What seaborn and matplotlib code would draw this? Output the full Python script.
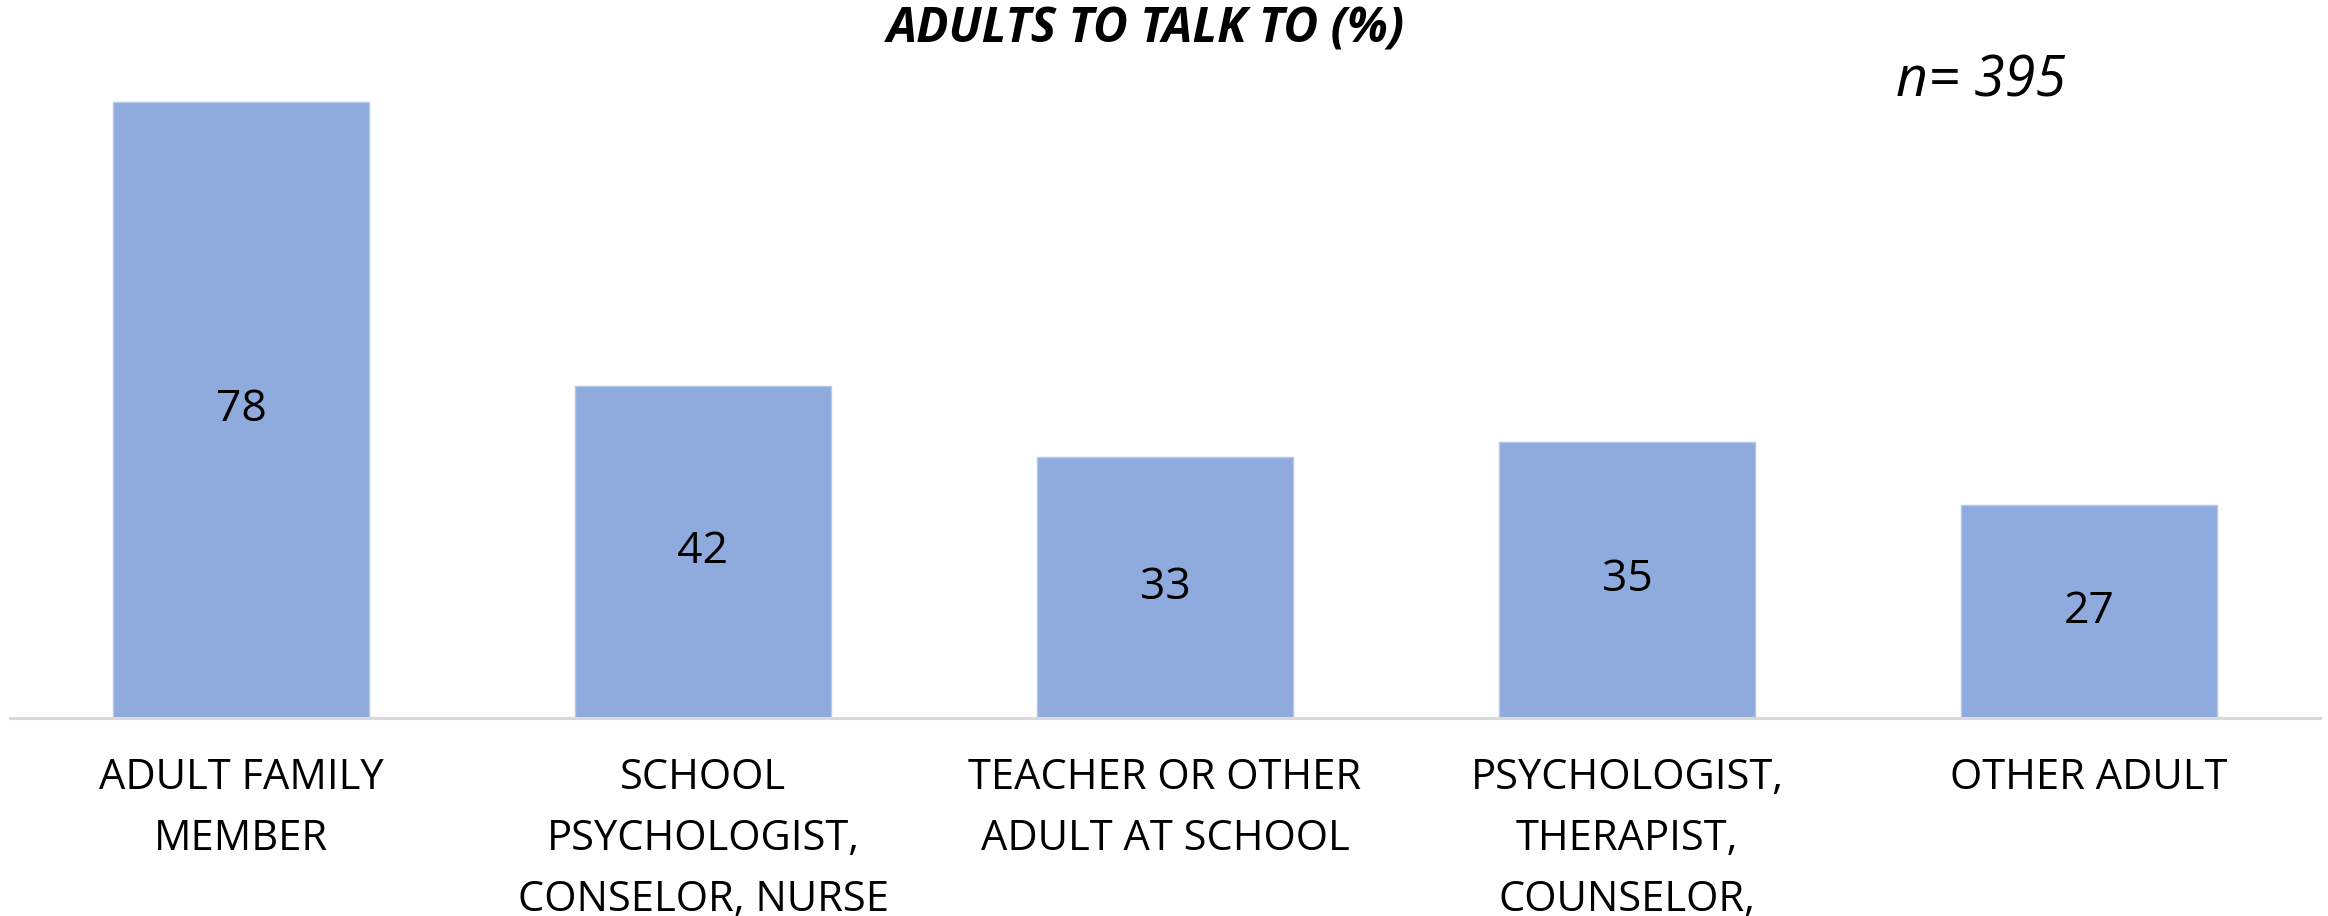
import matplotlib
matplotlib.use("Agg")
import matplotlib.pyplot as plt
import seaborn as sns
import pandas as pd

# data
categories = ["ADULT FAMILY\nMEMBER",
              "SCHOOL\nPSYCHOLOGIST,\nCONSELOR, NURSE",
              "TEACHER OR OTHER\nADULT AT SCHOOL",
              "PSYCHOLOGIST,\nTHERAPIST,\nCOUNSELOR,",
              "OTHER ADULT"]
values = [78, 42, 33, 35, 27]

df = pd.DataFrame({"category": categories, "value": values})

sns.set_style("white")
plt.rcParams['font.family'] = ['Open Sans', 'DejaVu Sans']
plt.rcParams['text.color'] = 'black'
plt.rcParams['xtick.color'] = 'black'

fig = plt.figure(figsize=(23.28, 9.16), dpi=100)
ax = fig.add_axes([10 / 2328, 198 / 916, 2310 / 2328, 718 / 916])

sns.barplot(data=df, x="category", y="value", color="#8FAADC",
            saturation=1, width=0.556, edgecolor="#B4C7E7", linewidth=1,
            ax=ax)

ax.set_xlim(-0.5, 4.5)
ax.set_ylim(0, 718 / 7.9)
ax.bar_label(ax.containers[0], label_type="center", fontsize=32,
             color="black")

# axis styling
for side in ["top", "left", "right"]:
    ax.spines[side].set_visible(False)
ax.spines["bottom"].set_color("#D9D9D9")
ax.spines["bottom"].set_linewidth(2.2)
ax.set_yticks([])
ax.set_xlabel("")
ax.set_ylabel("")
ax.tick_params(axis="x", length=0, pad=28, labelsize=30, labelcolor="black")
for lbl in ax.get_xticklabels():
    lbl.set_linespacing(1.6)
    lbl.set_va("top")

fig.text(1146 / 2328, 1 - 30 / 916, "ADULTS TO TALK TO (%)", ha="center",
         va="center", fontsize=34.5, fontweight="bold", fontstyle="italic",
         color="black")
fig.text(1981 / 2328, 1 - 82 / 916, "n= 395", ha="center", va="center",
         fontsize=40, fontstyle="italic", color="black")

fig.savefig("out.png", dpi=100)
